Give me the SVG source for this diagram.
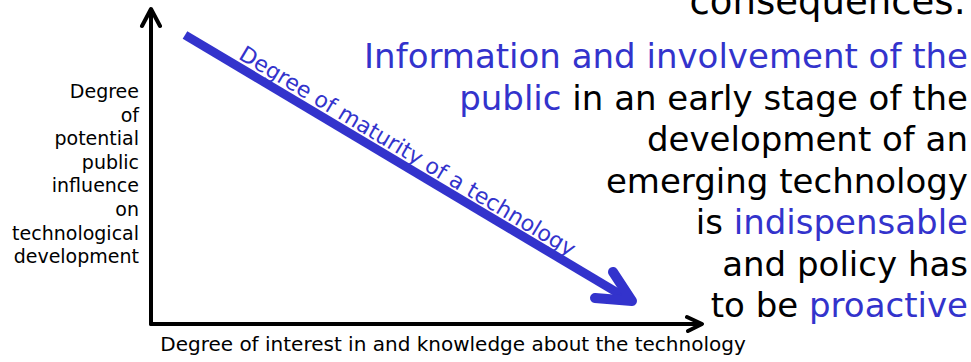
<svg xmlns="http://www.w3.org/2000/svg" width="971" height="362" viewBox="0 0 971 362">
<style>
.t{font-family:"DejaVu Sans",Verdana,sans-serif;fill:#000}
.b{fill:#3333cc}
.big{font-size:34px;text-anchor:end}
.small{font-size:19px;text-anchor:end}
.ax{fill:none;stroke:#000;stroke-width:4;stroke-linecap:round;stroke-linejoin:round}
</style>
<rect width="971" height="362" fill="#fff"/>
<g id="connectors">
<path class="ax" d="M151,324 V10 M142,26 L151,9 L160,26"/>
<path class="ax" d="M151,324 H700 M687,317 L702,324 L688,331"/>
<path d="M185,35 L628,299" fill="none" stroke="#3333cc" stroke-width="9"/>
<path d="M613,272 L632,301 L595,298" fill="none" stroke="#3333cc" stroke-width="10" stroke-linecap="round" stroke-linejoin="round"/>
</g>
<g id="maturity-label">
<text class="t b" font-size="22" transform="translate(185,35) rotate(30.9)" x="57" y="-7">Degree of maturity of a technology</text>
</g>
<g id="y-label">
<text class="t small" x="139" y="98">Degree</text>
<text class="t small" x="139" y="122">of</text>
<text class="t small" x="139" y="145">potential</text>
<text class="t small" x="139" y="169">public</text>
<text class="t small" x="139" y="192">influence</text>
<text class="t small" x="139" y="216">on</text>
<text class="t small" x="139" y="240">technological</text>
<text class="t small" x="139" y="263">development</text>
</g>
<g id="x-label">
<text class="t" font-size="20" x="453" y="351" text-anchor="middle">Degree of interest in and knowledge about the technology</text>
</g>
<g id="consequences">
<text class="t big" style="font-size:37px" x="966" y="14">consequences:</text>
<text class="t big b" x="968" y="68">Information and involvement of the</text>
<text class="t big" x="968" y="109.5"><tspan class="b">public</tspan> in an early stage of the</text>
<text class="t big" x="968" y="151">development of an</text>
<text class="t big" x="968" y="192.5">emerging technology</text>
<text class="t big" x="968" y="234">is <tspan class="b">indispensable</tspan></text>
<text class="t big" x="968" y="275.5">and policy has</text>
<text class="t big" x="968" y="317">to be <tspan class="b">proactive</tspan></text>
</g>
</svg>
